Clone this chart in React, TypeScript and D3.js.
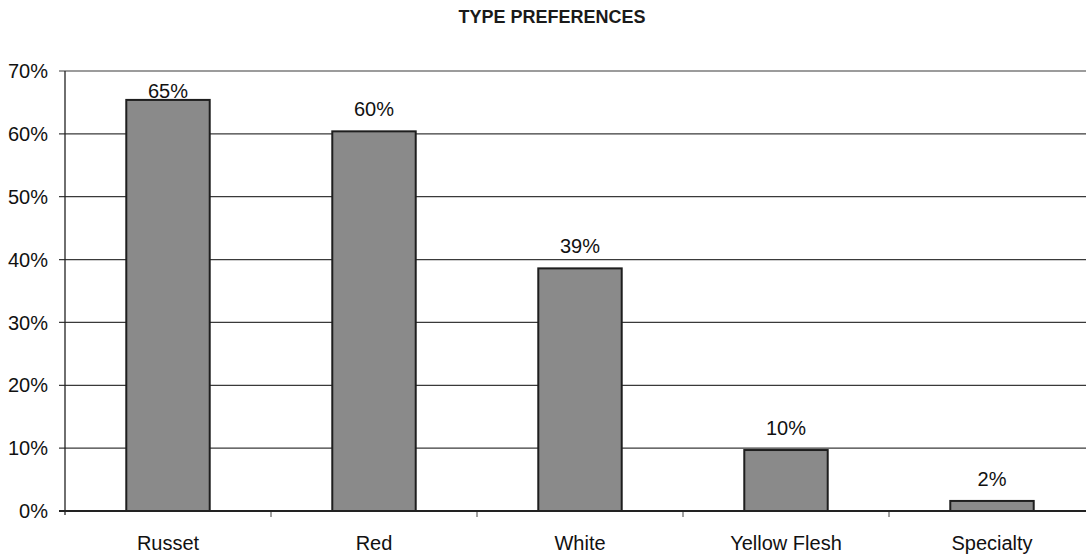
import React from 'react';
import * as d3 from 'd3';

const categories = ['Russet', 'Red', 'White', 'Yellow Flesh', 'Specialty'];
const shares = [65.4, 60.4, 38.6, 9.7, 1.6];
const shareLabels = ['65%', '60%', '39%', '10%', '2%'];
const yTicks = [0, 10, 20, 30, 40, 50, 60, 70];

const W = 1086;
const H = 556;
const margin = { top: 71, right: -9, bottom: 45, left: 65 };
const FONT = '"Liberation Sans", Arial, sans-serif';

export default function App() {
  const x = d3.scaleBand<string>()
    .domain(categories)
    .range([margin.left, W - margin.right])
    .paddingInner(0.595)
    .paddingOuter(0.2975);
  const y = d3.scaleLinear().domain([0, 70]).range([H - margin.bottom, margin.top]);
  const step = x.step();
  const x0 = margin.left;
  const y0 = y(0);

  return (
    <svg width={W} height={H} style={{ position: 'absolute', left: 0, top: 0, background: '#fff' }} fontFamily={FONT}>
      <text x={552} y={23} textAnchor="middle" fontSize={18} fontWeight={700} fill="#1a1a1a">TYPE PREFERENCES</text>

      {/* gridlines + y ticks */}
      {yTicks.map(t => (
        <g key={t}>
          <line x1={x0 - 6} x2={W} y1={y(t)} y2={y(t)} stroke="#3a3a3a" strokeWidth={1.2} />
          <text x={48} y={y(t)} dy="0.36em" textAnchor="end" fontSize={20} fill="#111">{t}%</text>
        </g>
      ))}

      {/* y axis */}
      <line x1={x0} x2={x0} y1={y(70)} y2={y0 + 4} stroke="#222" strokeWidth={1.3} />

      {/* x category ticks */}
      {categories.map((c, i) => (
        <line key={c} x1={x0 + step * (i + 1)} x2={x0 + step * (i + 1)} y1={y0} y2={y0 + 6} stroke="#444" strokeWidth={1} />
      ))}

      {categories.map((c, i) => {
        const bx = x(c) ?? 0;
        const by = y(shares[i]);
        const cx = bx + x.bandwidth() / 2;
        return (
          <g key={c}>
            <rect x={bx} y={by} width={x.bandwidth()} height={y0 - by} fill="#8a8a8a" stroke="#1e1e1e" strokeWidth={2} />
            <text x={cx} y={Math.max(by - 15, 98)} textAnchor="middle" fontSize={20} fill="#111">{shareLabels[i]}</text>
            <text x={cx} y={550} textAnchor="middle" fontSize={20} fill="#111">{c}</text>
          </g>
        );
      })}

      {/* baseline */}
      <line x1={x0 - 6} x2={W} y1={y0} y2={y0} stroke="#222" strokeWidth={2} />
    </svg>
  );
}
